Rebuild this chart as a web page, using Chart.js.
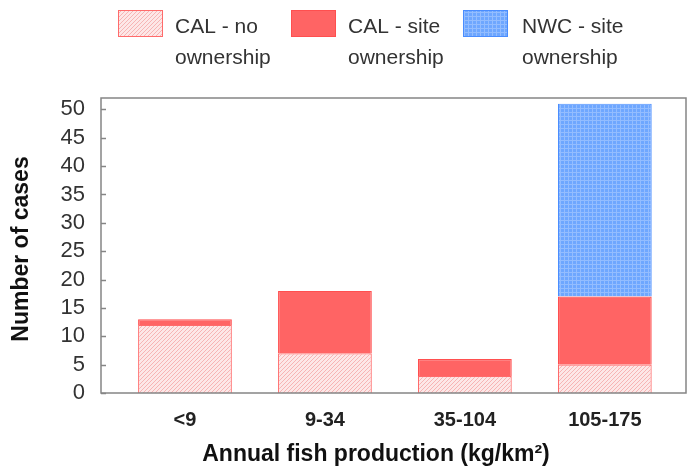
<!DOCTYPE html>
<html>
<head>
<meta charset="utf-8">
<script src="https://cdn.jsdelivr.net/npm/chart.js@4.4.1/dist/chart.umd.min.js"></script>
<style>
  html, body { margin: 0; padding: 0; background: #fff; }
  #wrap { width: 690px; height: 470px; }
</style>
</head>
<body>
<div id="wrap"><canvas id="c" width="690" height="470"></canvas></div>
<script>
// Number of cases per annual fish production class, split by arrangement type
const categories = ['<9', '9-34', '35-104', '105-175'];
const calNoOwnership = [12, 7, 3, 5];
const calSiteOwnership = [1, 11, 3, 12];
const nwcSiteOwnership = [null, null, null, 34];
const seriesNames = [
  ['CAL - no', 'ownership'],
  ['CAL - site', 'ownership'],
  ['NWC - site', 'ownership']
];
const yTickValues = [0, 5, 10, 15, 20, 25, 30, 35, 40, 45, 50];
const xTitle = 'Annual fish production (kg/km\u00B2)';
const yTitle = 'Number of cases';

const canvas = document.getElementById('c');
const mainCtx = canvas.getContext('2d');

// Fine diagonal hatch on pale pink
function hatchPattern() {
  const t = document.createElement('canvas');
  t.width = 4; t.height = 4;
  const g = t.getContext('2d');
  g.fillStyle = '#fde7e7';
  g.fillRect(0, 0, 4, 4);
  g.strokeStyle = '#f7b4b4';
  g.lineWidth = 1;
  g.beginPath();
  g.moveTo(0, 4); g.lineTo(4, 0);
  g.moveTo(-1, 1); g.lineTo(1, -1);
  g.moveTo(3, 5); g.lineTo(5, 3);
  g.stroke();
  return mainCtx.createPattern(t, 'repeat');
}

// Small square mesh on blue
function meshPattern() {
  const t = document.createElement('canvas');
  t.width = 4; t.height = 4;
  const g = t.getContext('2d');
  g.fillStyle = '#6ea7ff';
  g.fillRect(0, 0, 4, 4);
  g.fillStyle = '#93bdff';
  g.fillRect(0, 0, 4, 1);
  g.fillRect(0, 0, 1, 4);
  return mainCtx.createPattern(t, 'repeat');
}

const toPoints = arr => arr.map((v, i) => ({ x: i, y: v }));

const FONT = "'Liberation Sans', Arial, sans-serif";

const decor = {
  id: 'decor',
  afterDraw(chart) {
    const { ctx, chartArea: a, scales: { y } } = chart;
    ctx.save();
    // plot frame
    ctx.strokeStyle = '#858585';
    ctx.lineWidth = 1.5;
    ctx.strokeRect(a.left, a.top, a.right - a.left, a.bottom - a.top);
    // inward tick marks on the value axis
    y.ticks.forEach(t => {
      const py = Math.round(y.getPixelForValue(t.value)) + 0.5;
      ctx.beginPath();
      ctx.moveTo(a.left, py);
      ctx.lineTo(a.left + 5, py);
      ctx.stroke();
    });
    // axis titles
    ctx.fillStyle = '#111';
    ctx.font = "bold 23px " + FONT;
    ctx.textAlign = 'center';
    ctx.textBaseline = 'middle';
    ctx.fillText(xTitle, 376, 455);
    ctx.save();
    ctx.translate(22, 249);
    ctx.rotate(-Math.PI / 2);
    ctx.fillText(yTitle, 0, 0);
    ctx.restore();
    // legend
    const boxX = [118, 291, 463];
    const textX = [175, 348, 522];
    ctx.font = "21px " + FONT;
    ctx.textAlign = 'left';
    chart.data.datasets.forEach((ds, i) => {
      ctx.fillStyle = ds.backgroundColor;
      ctx.fillRect(boxX[i], 10, 45, 27);
      ctx.strokeStyle = ds.borderColor;
      ctx.lineWidth = 1;
      ctx.strokeRect(boxX[i] + 0.5, 10.5, 44, 26);
      ctx.fillStyle = '#333';
      ctx.fillText(seriesNames[i][0], textX[i], 27);
      ctx.fillText(seriesNames[i][1], textX[i], 58);
    });
    ctx.restore();
  }
};

new Chart(canvas, {
  type: 'bar',
  data: {
    datasets: [
      {
        label: seriesNames[0].join(' '),
        data: toPoints(calNoOwnership),
        backgroundColor: hatchPattern(),
        borderColor: '#ff6b6b',
        borderWidth: 1.2
      },
      {
        label: seriesNames[1].join(' '),
        data: toPoints(calSiteOwnership),
        backgroundColor: '#ff6464',
        borderColor: '#ff4f4f',
        borderWidth: 1.2
      },
      {
        label: seriesNames[2].join(' '),
        data: toPoints(nwcSiteOwnership),
        backgroundColor: meshPattern(),
        borderColor: '#4a8dff',
        borderWidth: 1.2
      }
    ]
  },
  options: {
    responsive: false,
    animation: false,
    devicePixelRatio: 1,
    layout: { padding: { top: 98, right: 4, left: 0, bottom: 0 } },
    plugins: { legend: { display: false }, tooltip: { enabled: false } },
    datasets: { bar: { categoryPercentage: 1, barPercentage: 0.67 } },
    scales: {
      x: {
        type: 'linear',
        offset: false,
        stacked: true,
        min: -0.6,
        max: 3.58,
        afterBuildTicks: s => { s.ticks = categories.map((_, i) => ({ value: i })); },
        afterFit: s => { s.height = 77; },
        ticks: {
          callback: v => categories[v],
          font: { family: FONT, size: 20, weight: 'bold' },
          color: '#222',
          padding: 15,
          autoSkip: false,
          maxRotation: 0
        },
        grid: { display: false, drawTicks: false, offset: false },
        border: { display: false }
      },
      y: {
        stacked: true,
        min: 0,
        max: 52,
        afterBuildTicks: s => { s.ticks = yTickValues.map(v => ({ value: v })); },
        afterFit: s => { s.width = 101; },
        ticks: {
          font: { family: FONT, size: 22 },
          color: '#333',
          padding: 16
        },
        grid: { display: false, drawTicks: false },
        border: { display: false }
      }
    }
  },
  plugins: [decor]
});
</script>
</body>
</html>
